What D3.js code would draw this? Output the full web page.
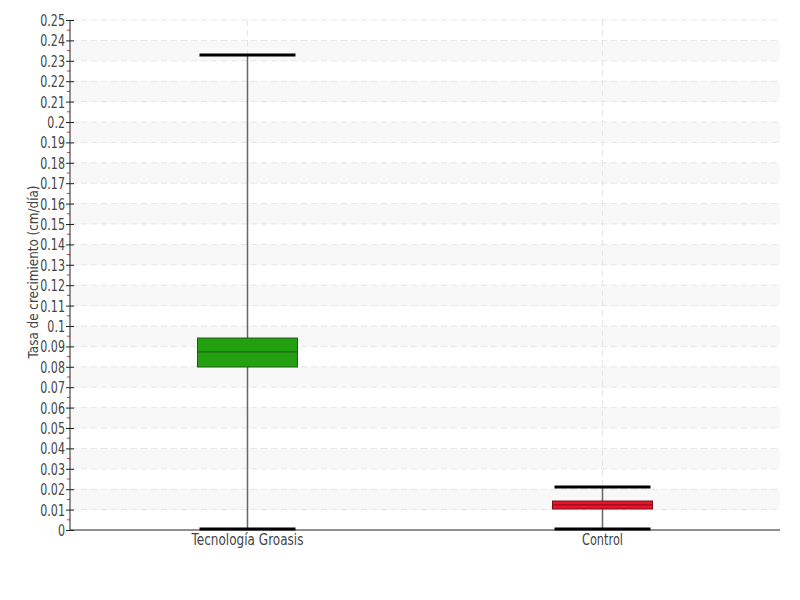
<!DOCTYPE html>
<html><head><meta charset="utf-8">
<script src="https://cdn.jsdelivr.net/npm/d3@7"></script>
<style>
body{margin:0;background:#fff;}
svg text{font-family:"DejaVu Sans",sans-serif;}
</style></head>
<body><svg id="c" width="800" height="600"></svg>
<script>
const categories = ["Tecnología Groasis", "Control"];
const whiskerLow = [0.0005, 0.0005];
const q1 = [0.0799, 0.0103];
const median = [0.0873, 0.0123];
const q3 = [0.0941, 0.0142];
const whiskerHigh = [0.2328, 0.0211];
const colors = ["#22a00f", "#e8132a"];
const strokeColors = ["#1f5a14", "#7a0f18"];
const yTicks = d3.range(0, 0.2501, 0.01).map(v => +v.toFixed(2));
const yLabel = "Tasa de crecimiento (cm/día)";
const xLabelLen = [112, 41];

const svg = d3.select("#c");
const m = {l:70, r:20, t:20, b:70};
const W = 800, H = 600;
const x = d3.scaleBand().domain(categories).range([m.l, W - m.r]).padding(0);
const y = d3.scaleLinear().domain([0, 0.25]).range([H - m.b, m.t]);

// stripes
const bands = yTicks.filter((v,i) => i % 2 === 1 && v < 0.25);
svg.append("g").selectAll("rect").data(bands).join("rect")
  .attr("x", m.l + 1).attr("width", W - m.r - m.l - 1)
  .attr("y", d => y(d + 0.01)).attr("height", d => y(d) - y(d + 0.01))
  .attr("fill", "#f8f8f8");

// horizontal grid
svg.append("g").selectAll("line").data(yTicks.filter(v => v > 0)).join("line")
  .attr("x1", m.l + 1).attr("x2", W - m.r - 3)
  .attr("y1", d => y(d)).attr("y2", d => y(d))
  .attr("stroke", "#e6e6e6").attr("stroke-dasharray", "6,4");

// vertical grid
svg.append("g").selectAll("line").data(categories).join("line")
  .attr("x1", d => x(d) + x.bandwidth()/2).attr("x2", d => x(d) + x.bandwidth()/2)
  .attr("y1", m.t).attr("y2", H - m.b)
  .attr("stroke", "#e6e6e6").attr("stroke-dasharray", "6,4");

// minor red ticks
const minor = d3.range(0.005, 0.25, 0.01);
svg.append("g").selectAll("line").data(minor).join("line")
  .attr("x1", m.l - 3).attr("x2", m.l)
  .attr("y1", d => y(d)).attr("y2", d => y(d))
  .attr("stroke", "#e8303a").attr("stroke-width", 1);

// y axis
const ya = svg.append("g").attr("transform", `translate(${m.l},0)`)
  .call(d3.axisLeft(y).tickValues(yTicks).tickFormat(d => d3.format("")(d)).tickSize(4).tickPadding(3));
ya.select(".domain").attr("stroke", "#222").attr("d", `M0,${m.t}V${H - m.b}`);
ya.selectAll(".tick line").attr("stroke", "#222").attr("x2", -4).attr("x1", 4);
ya.selectAll(".tick text").attr("fill", "#444").style("font-size", "15px")
  .attr("x", 0).attr("dy", "0.36em").attr("transform", "translate(-5,0) scale(0.74,1)");

// x axis
const xa = svg.append("g").attr("transform", `translate(0,${H - m.b})`)
  .call(d3.axisBottom(x).tickSize(0).tickPadding(4));
xa.select(".domain").attr("stroke", "#222").attr("d", `M${m.l},0H${W - m.r}`);
xa.selectAll(".tick text").attr("fill", "#444").style("font-size", "15px")
  .attr("textLength", (d,i) => xLabelLen[i]).attr("lengthAdjust", "spacingAndGlyphs");

// y label
svg.append("text").attr("transform", `translate(38,272) rotate(-90)`)
  .attr("text-anchor", "middle").attr("fill", "#444").style("font-size", "14px")
  .attr("textLength", 173).attr("lengthAdjust", "spacingAndGlyphs").text(yLabel);

// boxes
const g = svg.append("g");
categories.forEach((c, i) => {
  const cx = x(c) + x.bandwidth()/2;
  const bw = 100, cw = 96;
  g.append("line").attr("x1", cx).attr("x2", cx).attr("y1", y(whiskerHigh[i])).attr("y2", y(whiskerLow[i]))
    .attr("stroke", "#666").attr("stroke-width", 1.5);
  [whiskerHigh[i], whiskerLow[i]].forEach(v => {
    g.append("line").attr("x1", cx - cw/2).attr("x2", cx + cw/2).attr("y1", y(v)).attr("y2", y(v))
      .attr("stroke", "#000").attr("stroke-width", 3);
  });
  g.append("rect").attr("x", cx - bw/2).attr("width", bw)
    .attr("y", y(q3[i])).attr("height", y(q1[i]) - y(q3[i]))
    .attr("fill", colors[i]).attr("stroke", strokeColors[i]).attr("stroke-width", 1);
  g.append("line").attr("x1", cx - bw/2).attr("x2", cx + bw/2).attr("y1", y(median[i])).attr("y2", y(median[i]))
    .attr("stroke", strokeColors[i]).attr("stroke-width", 1);
});
</script></body></html>
